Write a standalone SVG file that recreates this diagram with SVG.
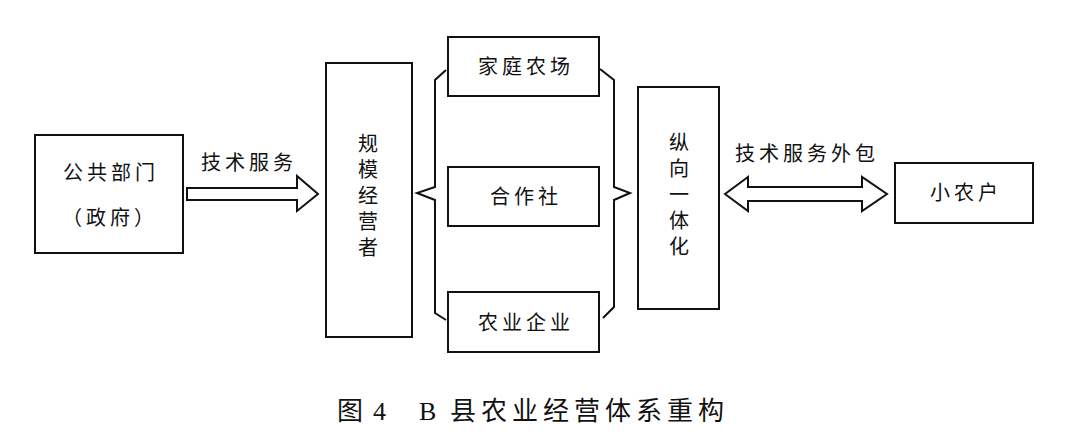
<svg xmlns="http://www.w3.org/2000/svg" width="1080" height="445" viewBox="0 0 1080 445">
<style>
.box{fill:#fff;stroke:#111;stroke-width:2}
.conn{fill:#fff;stroke:#111;stroke-width:2;stroke-linejoin:miter}
.brace{fill:none;stroke:#111;stroke-width:2;stroke-linejoin:miter}
.t{font-family:"Noto Sans CJK SC","Noto Sans",sans-serif;font-size:20px;fill:#111;text-anchor:middle;letter-spacing:4px}
.v{font-family:"Noto Sans CJK SC","Noto Sans",sans-serif;font-size:20px;fill:#111;text-anchor:middle;writing-mode:vertical-rl;letter-spacing:6px}
.cap{font-family:"Liberation Serif","Noto Sans CJK SC",serif;font-size:26px;fill:#111}
</style>
<rect width="1080" height="445" fill="#fff"/>
<g id="gov">
<rect class="box" x="35" y="135" width="148" height="118"/>
<text class="t" x="111" y="180">公共部门</text>
<text class="t" x="110" y="225">（政府）</text>
</g>
<g id="operator">
<rect class="box" x="326" y="63" width="86" height="274"/>
<text class="v" x="368" y="198">规模经营者</text>
</g>
<g id="family-farm">
<rect class="box" x="448" y="37" width="151" height="59"/>
<text class="t" x="526" y="74">家庭农场</text>
</g>
<g id="coop">
<rect class="box" x="448" y="167" width="151" height="59"/>
<text class="t" x="526" y="204">合作社</text>
</g>
<g id="agri-enterprise">
<rect class="box" x="448" y="292" width="151" height="60"/>
<text class="t" x="526" y="330">农业企业</text>
</g>
<g id="vertical">
<rect class="box" x="638" y="87" width="81" height="222"/>
<text class="v" x="679" y="197">纵向一体化</text>
</g>
<g id="smallholder">
<rect class="box" x="895" y="163" width="138" height="60"/>
<text class="t" x="966" y="200">小农户</text>
</g>
<g id="connectors">
<polygon class="conn" points="187,188 297,188 297,176 318,194 297,211 297,200 187,200"/>
<text class="t" x="249" y="170">技术服务</text>
<path class="brace" d="M446,70 L435,80 L435,187 L417,193 L435,200 L435,313 L446,320"/>
<path class="brace" d="M600,69 L614,80 L614,187 L630,193 L614,200 L614,307 L603,318"/>
<polygon class="conn" points="725,194 748,177 748,187 862,187 862,177 887,194 862,211 862,201 748,201 748,211"/>
<text class="t" x="807" y="161">技术服务外包</text>
</g>
<g id="caption">
<text class="cap" y="420"><tspan x="337" font-family="Noto Sans CJK SC, sans-serif">图</tspan><tspan x="373">4</tspan><tspan x="419">B</tspan><tspan x="450" font-family="Noto Sans CJK SC, sans-serif" letter-spacing="5">县农业经营体系重构</tspan></text>
</g>
</svg>
